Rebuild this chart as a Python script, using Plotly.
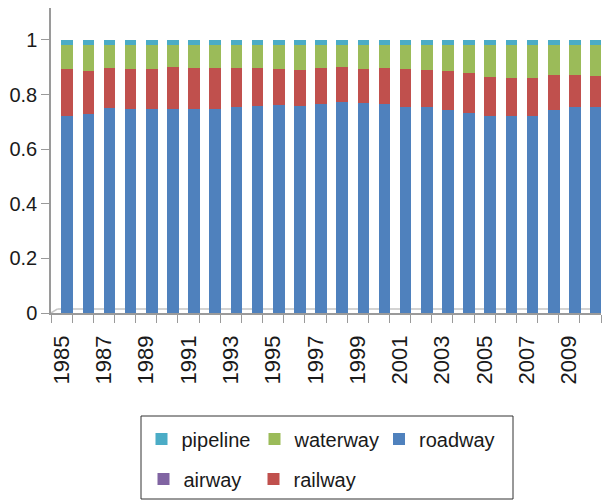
import plotly.graph_objects as go

# Modal share of freight transport, 1985-2010 (fractions of total)
years = list(range(1985, 2011))
roadway = [0.723, 0.729, 0.751, 0.747, 0.746, 0.747, 0.746, 0.747, 0.753, 0.759,
           0.763, 0.758, 0.766, 0.774, 0.768, 0.766, 0.755, 0.753, 0.743, 0.731,
           0.720, 0.720, 0.720, 0.743, 0.753, 0.755]
railway = [0.172, 0.158, 0.148, 0.146, 0.149, 0.154, 0.153, 0.150, 0.146, 0.138,
           0.132, 0.133, 0.133, 0.127, 0.127, 0.132, 0.137, 0.138, 0.143, 0.147,
           0.146, 0.141, 0.140, 0.128, 0.119, 0.114]
# air freight share is too small to show at this scale
airway = [0.0, 0.0, 0.0, 0.0, 0.0, 0.0, 0.0, 0.0, 0.0, 0.0,
          0.0, 0.0, 0.0, 0.0, 0.0, 0.0, 0.0, 0.0, 0.0, 0.0,
          0.0, 0.0, 0.0, 0.0, 0.0, 0.0]
waterway = [0.088, 0.096, 0.084, 0.090, 0.088, 0.082, 0.084, 0.086, 0.084, 0.086,
            0.088, 0.092, 0.084, 0.082, 0.088, 0.085, 0.091, 0.092, 0.097, 0.105,
            0.117, 0.122, 0.123, 0.112, 0.111, 0.114]
pipeline = [0.017, 0.017, 0.017, 0.017, 0.017, 0.017, 0.017, 0.017, 0.017, 0.017,
            0.017, 0.017, 0.017, 0.017, 0.017, 0.017, 0.017, 0.017, 0.017, 0.017,
            0.017, 0.017, 0.017, 0.017, 0.017, 0.017]

year_labels = [str(y) for y in range(1985, 2011, 2)]
y_ticks = [0, 0.2, 0.4, 0.6, 0.8, 1]

FONT = "Liberation Sans, Arial, sans-serif"
TEXT = "#1a1a1a"

W, H = 603, 503
ML, MR, MT, MB = 51, 2, 8, 190
PW, PH = W - ML - MR, H - MT - MB


def px_x(px):
    return (px - ML) / PW


def px_y(py):
    return (H - MB - py) / PH


series = [
    ("roadway", roadway, "#4F81BD", "legend3", px_x(379), px_y(439)),
    ("railway", railway, "#C0504D", "legend5", px_x(253.5), px_y(479)),
    ("airway", airway, "#8064A2", "legend4", px_x(143.5), px_y(479)),
    ("waterway", waterway, "#9BBB59", "legend2", px_x(254.5), px_y(439)),
    ("pipeline", pipeline, "#4BACC6", "legend", px_x(141.5), px_y(439)),
]

fig = go.Figure()
legends = {}
for name, vals, color, leg, lx, ly in series:
    fig.add_trace(go.Bar(
        x=years, y=vals, name=name, legend=leg,
        marker=dict(color=color, line=dict(width=0)),
        width=0.55, offset=-0.01,
    ))
    legends[leg] = dict(
        x=lx, y=ly, xanchor="left", yanchor="middle",
        orientation="h", bgcolor="rgba(0,0,0,0)", borderwidth=0,
        font=dict(family=FONT, size=20, color=TEXT),
    )

fig.update_layout(
    barmode="stack",
    width=W, height=H,
    margin=dict(l=ML, r=MR, t=MT, b=MB),
    paper_bgcolor="white", plot_bgcolor="white",
    showlegend=True,
    font=dict(family=FONT, size=20, color=TEXT),
    xaxis=dict(
        range=[1984.5, 2010.5],
        tickmode="array", tickvals=[int(s) for s in year_labels], ticktext=year_labels,
        tickangle=-90, ticks="", ticklabelstandoff=12,
        tickfont=dict(family=FONT, size=22, color=TEXT),
        showgrid=False, zeroline=False,
        showline=True, linecolor="#9a9a9a", linewidth=1.5,
        minor=dict(ticks="outside", ticklen=8, tickcolor="#9a9a9a",
                   tick0=1984.5, dtick=1, showgrid=False),
    ),
    yaxis=dict(
        range=[0, 1.117],
        tickmode="array", tickvals=y_ticks, ticktext=["0", "0.2", "0.4", "0.6", "0.8", "1"],
        ticks="outside", ticklen=8, tickcolor="#9a9a9a",
        tickfont=dict(family=FONT, size=20, color=TEXT),
        showgrid=False, zeroline=False,
        showline=True, linecolor="#9a9a9a", linewidth=1.5,
    ),
    shapes=[
        # back edge of the chart floor
        dict(type="line", xref="paper", yref="y", x0=0.012, x1=1, y0=0.015, y1=0.015,
             line=dict(color="#c4c4c4", width=1.5), layer="below"),
        dict(type="line", xref="paper", yref="y", x0=0, x1=0.012, y0=0, y1=0.015,
             line=dict(color="#c4c4c4", width=1.5), layer="below"),
        # frame around the legend entries
        dict(type="rect", xref="paper", yref="paper",
             x0=px_x(141), x1=px_x(513), y0=px_y(499), y1=px_y(416),
             line=dict(color="#333333", width=1), fillcolor="rgba(0,0,0,0)"),
    ],
    **legends,
)

fig.write_html("out.html")
